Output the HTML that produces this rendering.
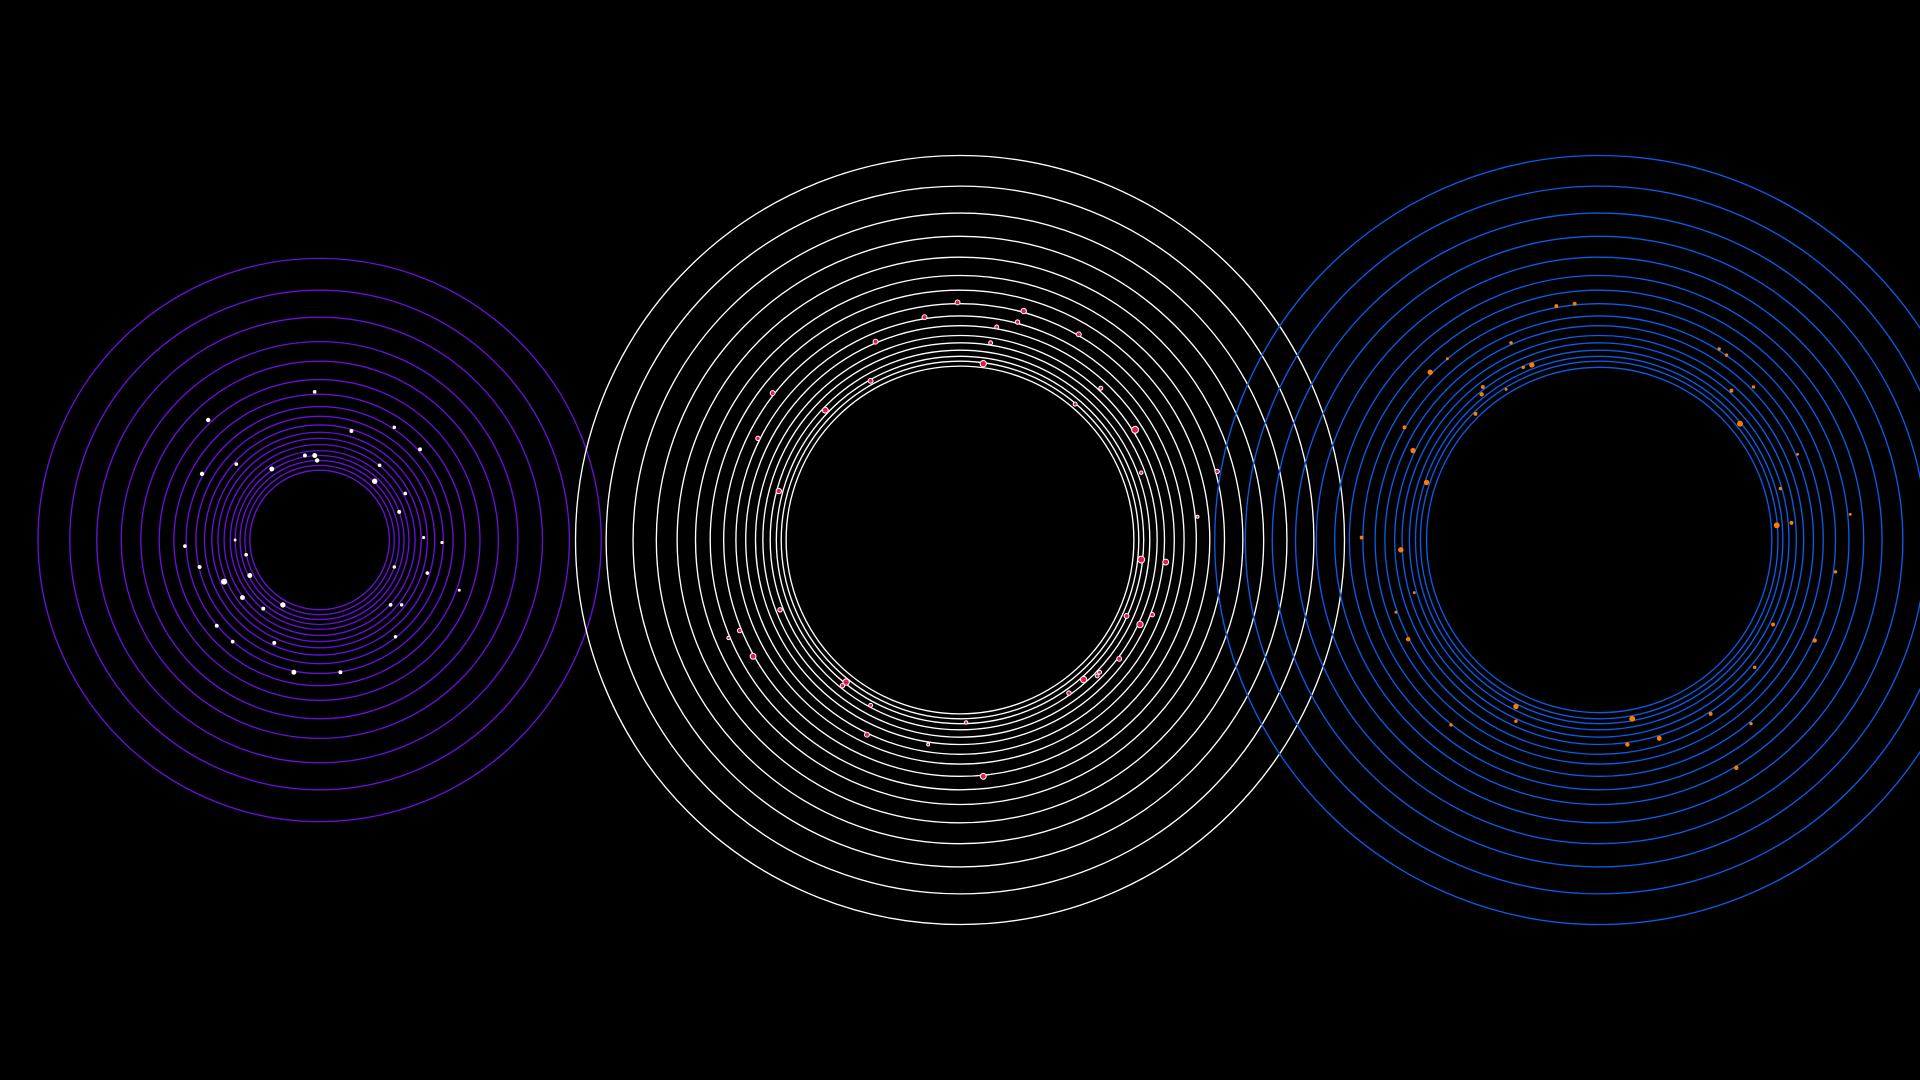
<!DOCTYPE html>
<html><head><meta charset="utf-8"><style>
html,body{margin:0;padding:0;background:#000;width:1920px;height:1080px;overflow:hidden}
svg{display:block}
</style></head><body>
<svg id="chart" width="1920" height="1080" viewBox="0 0 1568 882" xmlns="http://www.w3.org/2000/svg">
<rect width="1568" height="882" fill="#000"/>
</svg>
<script>
// Ring radii per group (data units)
const leftRadii = [230,204,182,162,146,131,119,109,101,94,88,83,78,73,69,65,61,57];
const midRadii = [314,289,267,248,231,216,204,193,183,175,167,161,155,150,146,142];
const rightRadii = [314,289,267,248,231,216,204,193,183,175,167,161,155,150,146,141];
// Dot offsets from group center (data units)
const leftDotX = [-4,-91,-39,-12,-4,-2,26,61,82,-96,-68,45,70,65,85,100,-110,-69,-60,-98,-78,-57,61,88,114,-63,-30,-46,58,67,-84,-71,-37,62,-21,17,49];
const leftDotY = [-121,-98,-58,-69,-69,-65,-89,-92,-74,-54,-62,-48,-38,-23,-2,2,5,0,12,22,34,29,22,27,41,47,53,56,53,53,70,83,84,79,108,108,-61];
const leftDotS = [1.5,1.8,2,1.6,2,1.8,1.6,1.4,1.6,1.8,1.5,2.2,1.5,1.6,1.3,1.3,1.5,1.2,1.5,1.6,2.5,2,1.4,1.5,1.2,2,2.2,1.6,1.5,1.4,1.6,1.5,1.6,1.4,2,1.6,1.5];
const midDotX = [-2,-29,52,30,47,25,97,-69,19,-73,-153,115,-110,94,143,-165,148,210,-148,194,148,168,-147,136,157,147,-180,-189,-169,130,114,101,112,-93,-96,89,-73,5,-76,-26,19];
const midDotY = [-194,-182,-187,-174,-178,-161,-168,-162,-144,-130,-120,-124,-106,-111,-90,-83,-55,-56,-40,-19,16,18,57,62,61,69,74,80,95,97,108,114,111,116,119,125,135,149,159,167,193];
const midDotS = [2,2,2.2,1.6,1.8,1.6,2,2,2.6,2,2,1.6,2.4,1.6,2.8,1.8,1.4,1.8,2.2,1.2,2.8,2.4,1.8,2,1.8,2.6,1.8,1.4,2.4,2,1.6,2.6,1.6,2.6,1.8,1.8,1.6,1.4,2,1.2,2.4];
const rightDotX = [-20,-35,-72,-55,-62,-138,-124,-95,-96,-101,-76,98,104,108,126,115,-159,-152,162,-141,148,145,157,205,-194,-162,193,-151,-166,142,-156,176,127,-68,27,91,-121,-68,124,49,23,112];
const rightDotY = [-193,-191,-161,-143,-141,-137,-148,-125,-119,-103,-123,-156,-151,-122,-125,-95,-92,-73,-70,-47,-42,-12,-14,-21,-2,8,26,43,59,69,81,82,104,136,146,142,151,148,150,162,167,186];
const rightDotS = [1.6,1.6,1.4,2.2,1.4,2.2,1.2,1.6,1.8,1.6,1.2,1.4,1.4,1.6,1.4,2.4,1.6,2.2,1.2,2.2,1.4,2.4,1.6,1.2,1.6,2.2,1.4,1.2,1.2,1.6,1.8,1.8,1.4,2.2,2.4,1.6,1.4,1.4,1.4,2,1.8,1.8];

const svg = document.getElementById('chart');
const NS = 'http://www.w3.org/2000/svg';
const groups = [
  {name:'left', cx:261, cy:441, radii:leftRadii, dx:leftDotX, dy:leftDotY, ds:leftDotS, ring:'#6a0fd8', fill:'#ffffff', stroke:'none'},
  {name:'middle', cx:784, cy:441, radii:midRadii, dx:midDotX, dy:midDotY, ds:midDotS, ring:'#ffffff', fill:'#e8174a', stroke:'#ffffff'},
  {name:'right', cx:1306, cy:441, radii:rightRadii, dx:rightDotX, dy:rightDotY, ds:rightDotS, ring:'#0a5ce8', fill:'#ff7a00', stroke:'none'}
];
groups.forEach(function(grp){
  const g = document.createElementNS(NS,'g');
  
  
  svg.appendChild(g);
  const sx = function(v){ return grp.cx + v; };
  const sy = function(v){ return grp.cy + v; };
  grp.radii.forEach(function(r){
    const c = document.createElementNS(NS,'circle');
    c.setAttribute('cx', grp.cx); c.setAttribute('cy', grp.cy); c.setAttribute('r', r);
    c.setAttribute('fill','none'); c.setAttribute('stroke', grp.ring); c.setAttribute('stroke-width', 1.1);
    
    
    g.appendChild(c);
  });
  grp.dx.forEach(function(v,i){
    const d = document.createElementNS(NS,'circle');
    d.setAttribute('cx', sx(v)); d.setAttribute('cy', sy(grp.dy[i])); d.setAttribute('r', grp.ds[i]);
    d.setAttribute('fill', grp.fill);
    if (grp.stroke !== 'none') { d.setAttribute('stroke', grp.stroke); d.setAttribute('stroke-width', 0.8); }
    
    
    g.appendChild(d);
  });
});
</script>
</body></html>
